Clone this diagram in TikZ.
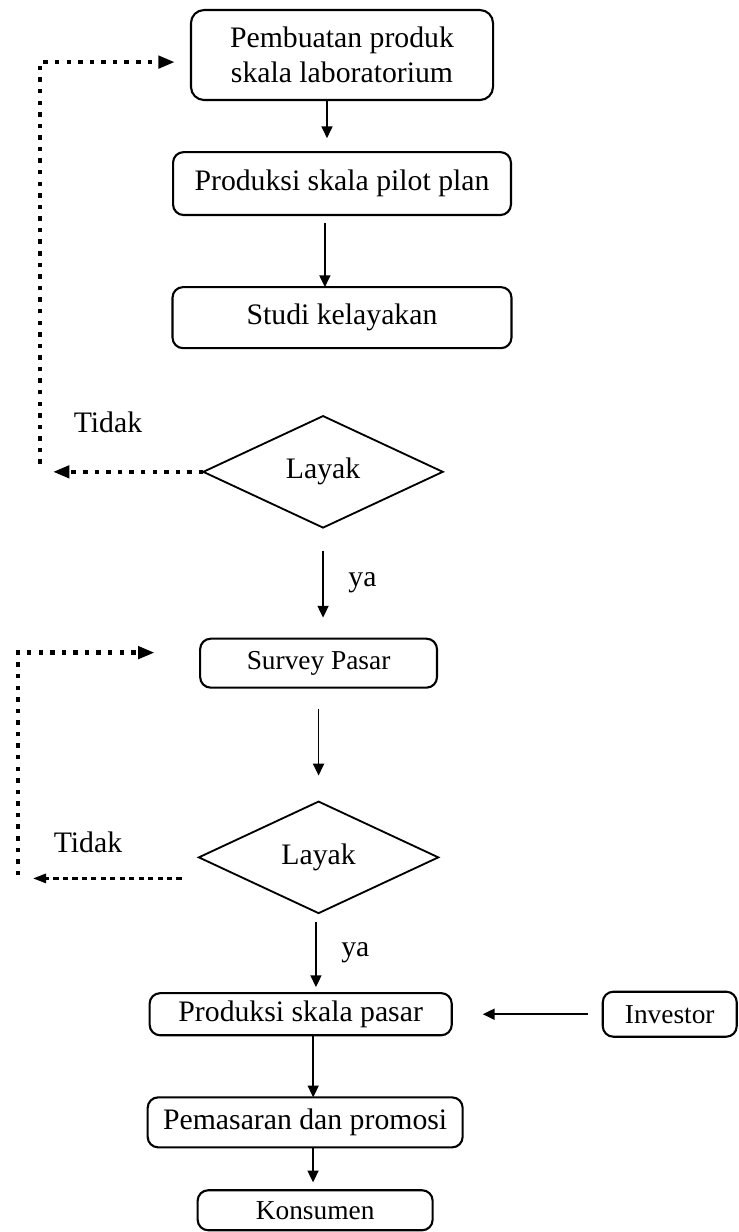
\documentclass[tikz,border=0pt]{standalone}
\usepackage{fontspec}
\setmainfont{Liberation Serif}
\usetikzlibrary{shapes.geometric, arrows.meta, positioning}

\begin{document}
\begin{tikzpicture}[
    x=0.38pt, y=-0.38pt,
    font=\fontsize{11.3pt}{13.3pt}\selectfont,
    >={Triangle[length=4.5pt,width=4.2pt]},
    blk/.style={draw, line width=0.8pt, rounded corners=4pt, align=center,
                inner sep=2pt, outer sep=0pt, minimum width=#1},
    dec/.style={diamond, draw, line width=0.7pt, inner sep=0pt, outer sep=0pt,
                minimum width=91pt, minimum height=42.4pt},
    sml/.style={font=\fontsize{10.4pt}{12pt}\selectfont},
    arr/.style={->, line width=0.6pt},
    dotarr/.style={-{Triangle[length=6.3pt,width=4.6pt]}, line width=1.7pt,
                   dash pattern=on 1.7pt off 2.7pt},
    dotthin/.style={-{Triangle[length=5pt,width=3.5pt]}, line width=1pt,
                    dash pattern=on 2pt off 1.6pt},
  ]
    \useasboundingbox (0,0) rectangle (739,1232);

    % Upper part: laboratory to feasibility
    \node[blk=114.8pt, minimum height=34.2pt, rounded corners=5pt] (lab) at (342,55)
      {Pembuatan produk\\skala laboratorium};
    \node[blk=128.4pt, minimum height=23.9pt, below=19.8pt of lab] (pilot) {Produksi skala pilot plan};
    \node[blk=128.8pt, minimum height=23.2pt, below=27.4pt of pilot] (studi) {Studi kelayakan};
    \node[dec, below=25.8pt of studi, xshift=-7.2pt] (layak1) {Layak};

    % Market survey
    \node[blk=90pt, minimum height=18.6pt, sml, below=42.2pt of layak1, xshift=-1.7pt] (survey) {Survey Pasar};
    \node[dec, below=43.3pt of survey] (layak2) {Layak};

    % Market scale
    \node[blk=114.8pt, minimum height=16pt, below=30.4pt of layak2, xshift=-6.8pt] (pasar) {Produksi skala pasar};
    \node[blk=119.7pt, minimum height=19pt, below=23.6pt of pasar, xshift=1.7pt] (promosi) {Pemasaran dan promosi};
    \node[blk=89.3pt, minimum height=15.2pt, sml, below=16.3pt of promosi, xshift=3.8pt] (konsumen) {Konsumen};
    \node[blk=50.9pt, minimum height=17.1pt, sml, right=57.4pt of pasar] (investor) {Investor};

    \draw[arr, shorten >=5.3pt] ([xshift=-5.7pt]lab.south) -- ([xshift=-5.7pt]lab.south |- pilot.north);
    \draw[arr, shorten <=3pt] ([xshift=-6.5pt]pilot.south) -- ([xshift=-6.5pt]pilot.south |- studi.north);
    \draw[arr, shorten <=8.7pt, shorten >=8pt] (layak1.south) -- (layak1.south |- survey.north)
      node[midway, right=6pt] (ya1) {ya};
    \draw[arr, shorten <=8pt, shorten >=9.9pt] (survey.south) -- (survey.south |- layak2.north);
    \draw[arr, shorten <=3.4pt, shorten >=2.3pt] ([xshift=-1pt]layak2.south) -- ([xshift=-1pt]layak2.south |- pasar.north)
      node[midway, right=6pt] (ya2) {ya};
    \draw[arr] ([xshift=4.75pt]pasar.south) -- ([xshift=4.75pt]pasar.south |- promosi.north);
    \draw[arr, shorten >=3pt] ([xshift=3pt]promosi.south) -- ([xshift=3pt]promosi.south |- konsumen.north);
    \draw[arr, shorten <=5.7pt, shorten >=11.8pt] (investor.west) -- (investor.west -| pasar.east);

    % feedback when not feasible
    \coordinate (lft1) at (40,0);
    \coordinate (lft2) at (18,0);
    \node (tidak1) at (108,422) {Tidak};
    \node (tidak2) at (88,842) {Tidak};
    \draw[dotarr] (layak1.west) -- ([xshift=4.9pt]layak1.west -| lft1);
    \draw[dotarr, shorten >=6.1pt] ([yshift=3pt]layak1.west -| lft1) |- ([yshift=-2.7pt]lab.west);
    \draw[dotthin] ([xshift=-6.5pt,yshift=-8pt]layak2.west) -- ([xshift=5.7pt,yshift=-8pt]layak2.west -| lft2);
    \draw[dotarr, shorten >=17.3pt] ([yshift=-6.8pt]layak2.west -| lft2) |- ([yshift=4pt]survey.west);
  \end{tikzpicture}
\end{document}
